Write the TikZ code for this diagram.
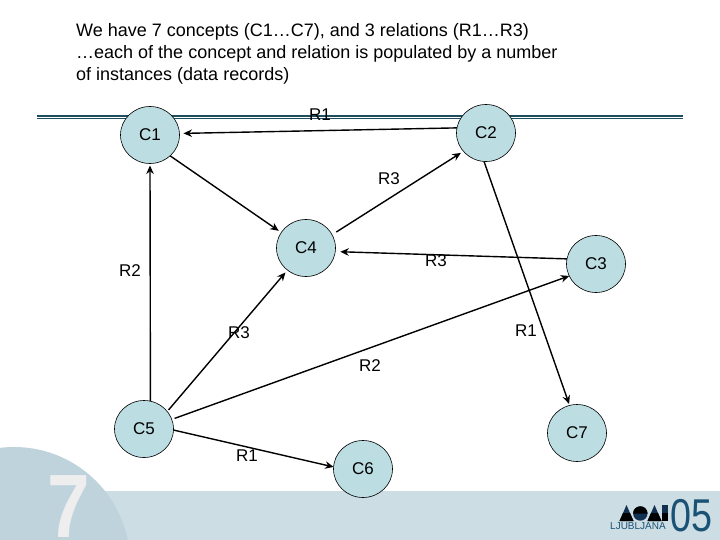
\documentclass[tikz,border=0pt]{standalone}
\usepackage{fontspec}
\usetikzlibrary{shapes.geometric,arrows.meta}
\setmainfont{Liberation Sans}
\definecolor{nodefill}{HTML}{BCDDE2}
\definecolor{rule}{HTML}{1F4E5F}
\definecolor{band}{HTML}{CCDDE4}
\definecolor{disc}{HTML}{BFD3DC}
\definecolor{seven}{HTML}{EEEEEE}
\definecolor{logoblue}{HTML}{1A5276}
\definecolor{logotop}{HTML}{12304F}
\tikzset{
  concept/.style={ellipse,draw=black,line width=0.6pt,fill=nodefill,minimum width=59pt,minimum height=57pt,inner sep=0pt,outer sep=0pt,font=\fontsize{17}{19}\selectfont},
  conn/.style={draw=black,line width=1.4pt,-{Stealth[length=8.5pt,width=7.5pt]}},
  rel/.style={inner sep=0pt,font=\fontsize{17}{19}\selectfont}
}
\begin{document}
\begin{tikzpicture}[x=1pt,y=-1pt]
\useasboundingbox (0,0) rectangle (720,540);
\fill[white] (0,0) rectangle (720,540);
% bottom band and disc
\fill[band] (100,491) rectangle (720,540);
\begin{scope}
\clip (0,440) rectangle (720,540);
\fill[disc] (14,563) circle[radius=116];
\end{scope}
\node[text=seven,anchor=base,inner sep=0pt,xscale=0.85,transform shape,font=\bfseries\fontsize{90}{90}\selectfont] (seven) at (69,537.5) {7};
% logo
\fill[logotop] (619.5,521) -- (626.5,505) -- (633.5,521) -- cycle;
\fill[black] (619.5,521) -- (623,513) -- (630,513) -- (633.5,521) -- cycle;
\fill[logotop] (640.3,513.5) circle[radius=7.2];
\fill[black] (633.1,513.5) arc[start angle=180,end angle=360,radius=7.2] -- cycle;
\fill[logotop] (647.5,521) -- (654.5,505) -- (661.5,521) -- cycle;
\fill[black] (647.5,521) -- (651,513) -- (658,513) -- (661.5,521) -- cycle;
\fill[logotop] (662.3,505) rectangle (668,513);
\fill[black] (662.3,513) rectangle (668,521);
\node[text=logoblue,inner sep=0pt,xscale=0.82,transform shape,font=\fontsize{46}{46}\selectfont] (yr) at (691,516) {05};
\node[text=logoblue,inner sep=0pt,font=\fontsize{10}{11}\selectfont] (city) at (638,526.5) {LJUBLJANA};
% rule
\fill[rule] (37,115) rectangle (683,117.2);
\fill[rule] (37,118.2) rectangle (683,119.4);
% title
\node[anchor=north west,align=left,inner sep=0pt,font=\fontsize{18}{22}\selectfont] (title) at (76,23.5)
 {We have 7 concepts (C1…C7), and 3 relations (R1…R3)\\…each of the concept and relation is populated by a number\\of instances (data records)};
% concepts
\node[concept] (c1) at (150,135) {C1};
\node[concept] (c2) at (486,133) {C2};
\node[concept] (c3) at (596,264) {C3};
\node[concept] (c4) at (306,248) {C4};
\node[concept] (c5) at (144,429) {C5};
\node[concept] (c6) at (363,469) {C6};
\node[concept] (c7) at (577,433) {C7};
% relations
\draw[conn,shorten >=4pt] (c2.170) -- (c1.3);
\draw[conn,shorten >=3pt] (c1.-46) -- (c4.148);
\draw[conn,shorten <=5pt,shorten >=3pt] (c4.27) -- (c2.219);
\draw[conn,shorten >=5pt] (c3.170) -- (c4.-7);
\draw[conn,shorten >=2pt] (c5.77) -- (c1.-90);
\draw[conn,shorten <=2pt,shorten >=3pt] (c5.37) -- (c4.230);
\draw[conn,shorten <=3pt] (c5.19) -- (c3.204);
\draw[conn] (c5.-2) -- (c6.176);
\draw[conn,shorten >=1.5pt] (c2.-94) -- (c7.105);
% labels
\node[rel] (l1) at (320,115) {R1};
\node[rel] (l2) at (389,179) {R3};
\node[rel] (l3) at (436,261) {R3};
\node[rel] (l4) at (130,271) {R2};
\node[rel] (l5) at (239,333) {R3};
\node[rel] (l6) at (526,331) {R1};
\node[rel] (l7) at (370,366) {R2};
\node[rel] (l8) at (247,456) {R1};
\end{tikzpicture}
\end{document}
